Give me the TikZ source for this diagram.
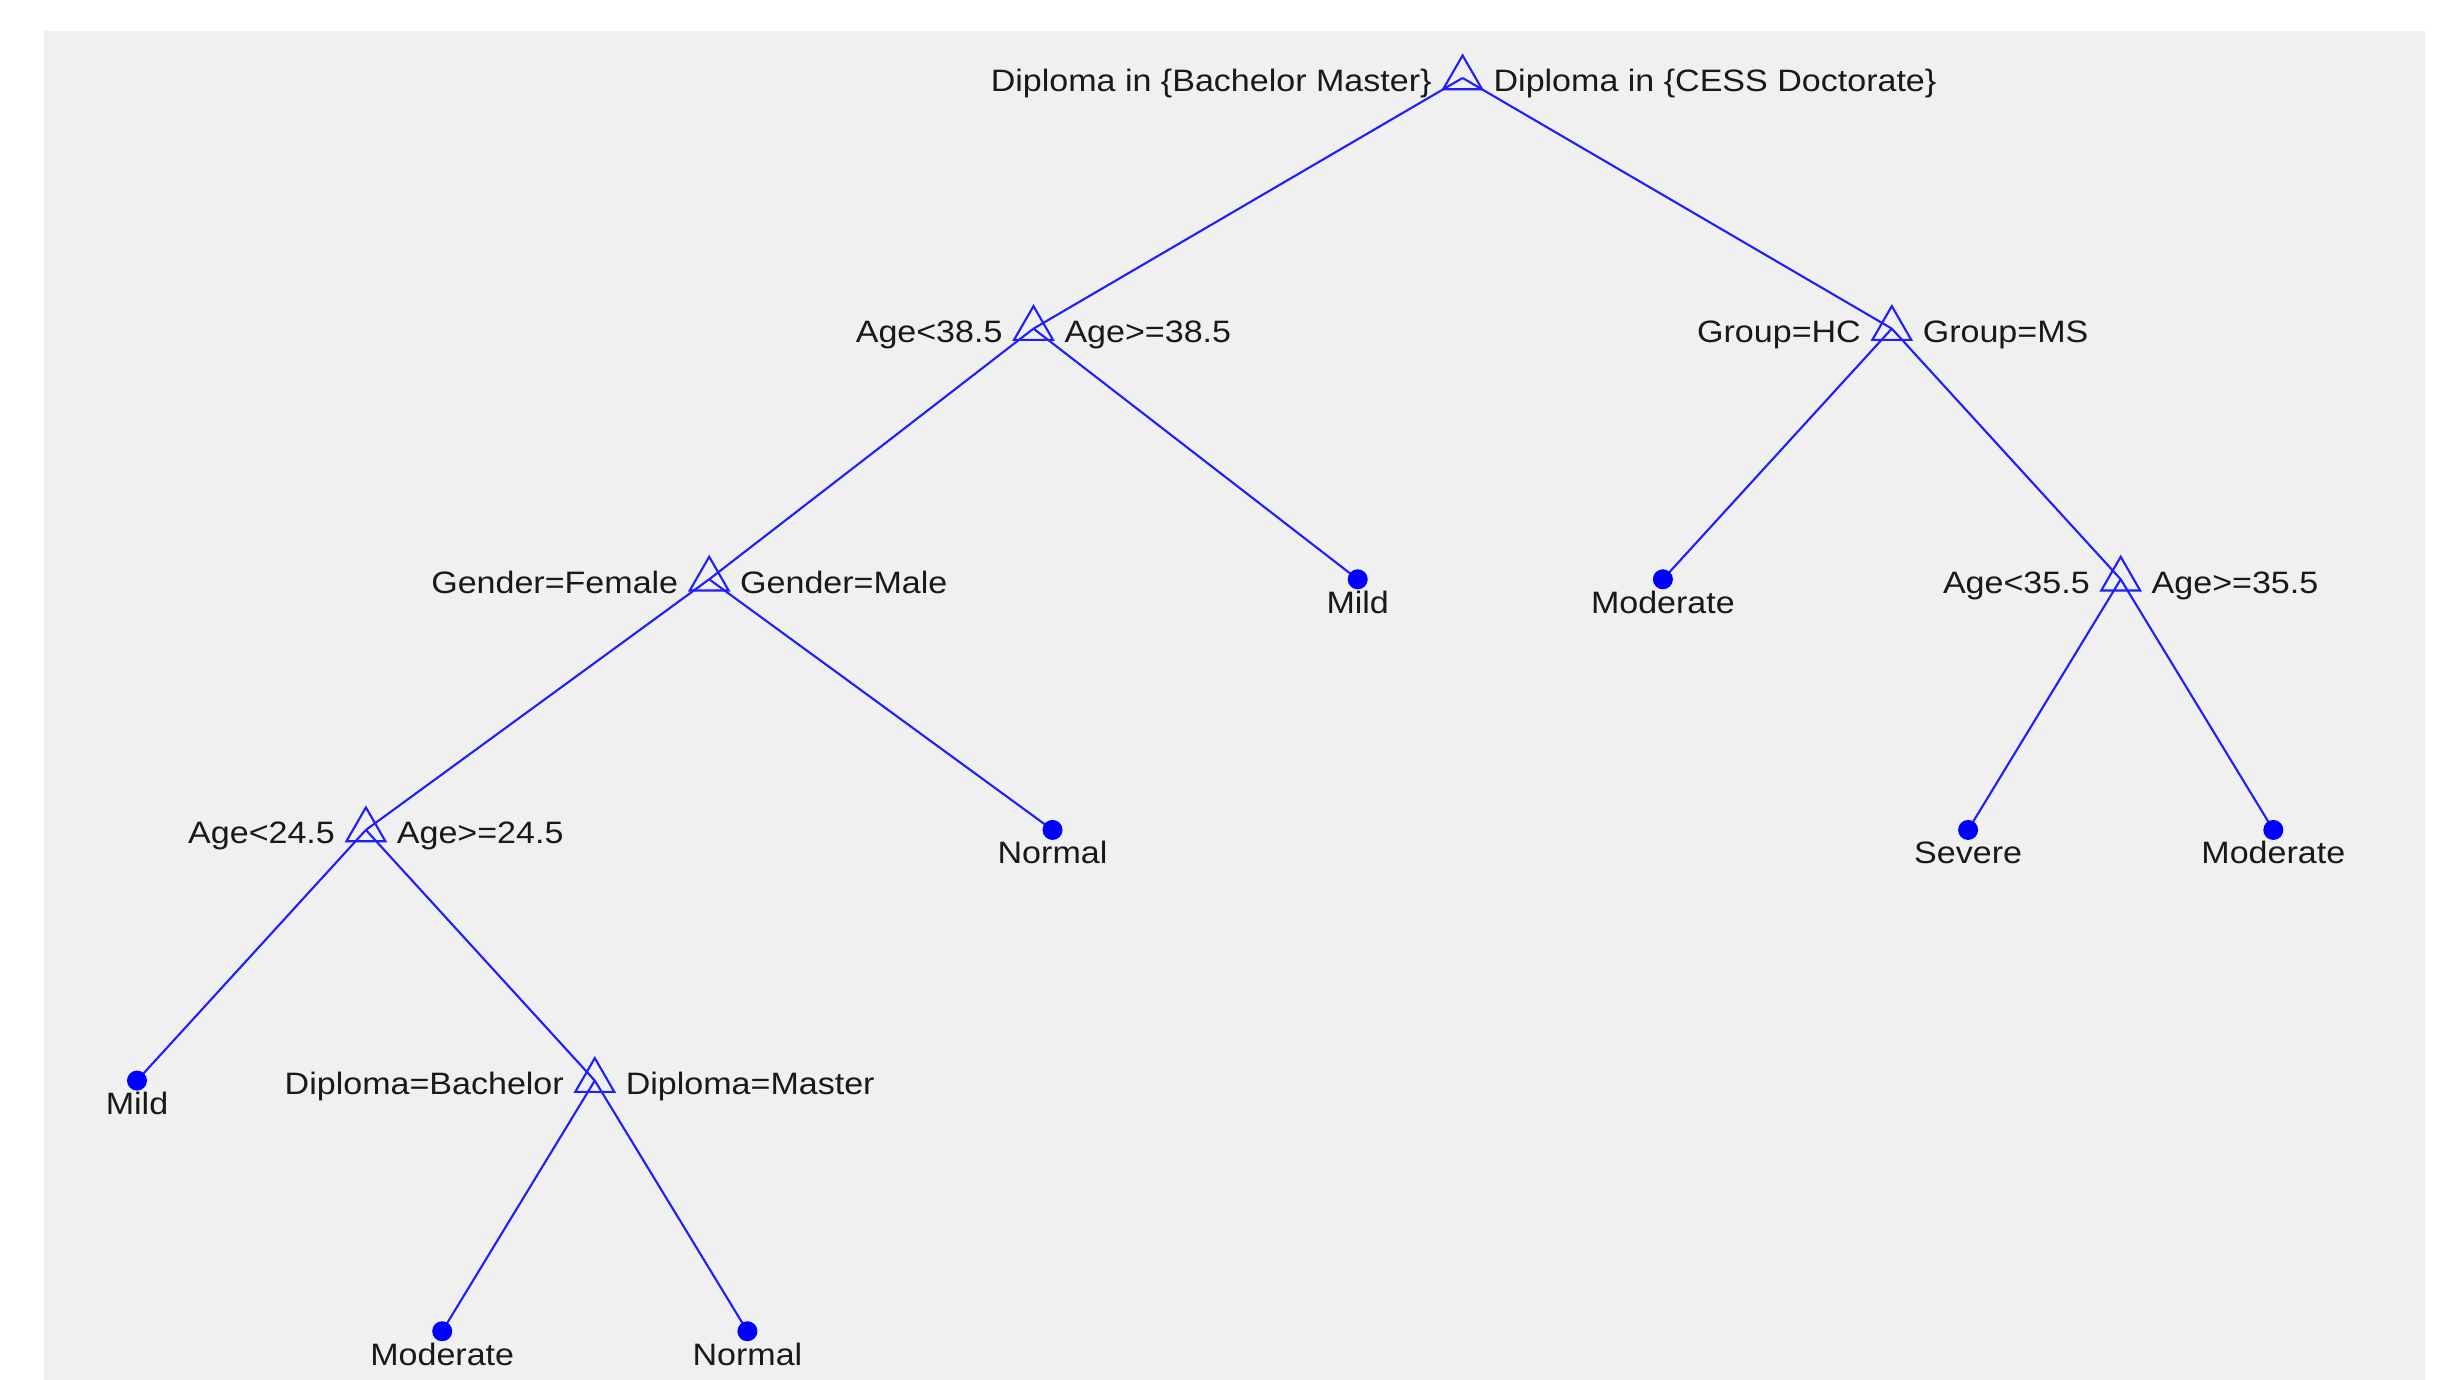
\documentclass[tikz,border=0pt]{standalone}
\usepackage{fontspec}
\newfontfamily\labfont[FakeStretch=1.1]{Liberation Sans}
\usetikzlibrary{calc,shapes.geometric}
\definecolor{bgray}{RGB}{240,240,240}
\definecolor{tblue}{RGB}{30,30,255}
\begin{document}
\begin{tikzpicture}[x=0.01cm,y=-0.01cm,
  tri/.style={draw=tblue,regular polygon,regular polygon sides=3,minimum size=0.45cm,inner sep=0pt,outer sep=0pt,line width=0.6pt},
  leaf/.style={circle,fill=blue,minimum size=0.2cm,inner sep=0pt,outer sep=0pt},
  edge/.style={draw=tblue,line width=0.6pt},
  lab/.style={inner sep=0pt,outer sep=0pt,text=black!90,font=\labfont\fontsize{8.8}{10}\selectfont}]
\useasboundingbox (0,0) rectangle (2445,1380);
\fill[white] (0,0) rectangle (2445,1380);
\fill[bgray] (44,31) rectangle (2425,1380);
% node positions
\coordinate (root) at (1462.6,78);
\coordinate (a38) at (1033.5,328.65);
\coordinate (grp) at (1891.8,328.65);
\coordinate (gen) at (709.2,579.3);
\coordinate (a35) at (2120.7,579.3);
\coordinate (a24) at (365.9,829.95);
\coordinate (dip) at (594.8,1080.6);
\coordinate (lf0) at (137.0,1080.6);
\coordinate (lf1) at (442.2,1331.25);
\coordinate (lf2) at (747.4,1331.25);
\coordinate (lf3) at (1052.5,829.95);
\coordinate (lf4) at (1357.7,579.3);
\coordinate (lf5) at (1662.9,579.3);
\coordinate (lf6) at (1968.1,829.95);
\coordinate (lf7) at (2273.3,829.95);
% edges
\draw[edge] (root) -- (a38);
\draw[edge] (root) -- (grp);
\draw[edge] (a38) -- (gen);
\draw[edge] (a38) -- (lf4);
\draw[edge] (grp) -- (lf5);
\draw[edge] (grp) -- (a35);
\draw[edge] (gen) -- (a24);
\draw[edge] (gen) -- (lf3);
\draw[edge] (a35) -- (lf6);
\draw[edge] (a35) -- (lf7);
\draw[edge] (a24) -- (lf0);
\draw[edge] (a24) -- (dip);
\draw[edge] (dip) -- (lf1);
\draw[edge] (dip) -- (lf2);
% markers
\foreach \n in {root,a38,grp,gen,a35,a24,dip}
  \node[tri] (\n m) at (\n) {};
\foreach \n in {lf0,lf1,lf2,lf3,lf4,lf5,lf6,lf7}
  \node[leaf] (\n m) at (\n) {};
% branch labels
\node[lab,anchor=base east] (rootL) at ($(root)+(-31,14)$) {Diploma in \{Bachelor Master\}};
\node[lab,anchor=base west] (rootR) at ($(root)+(31,14)$) {Diploma in \{CESS Doctorate\}};
\node[lab,anchor=base east] (a38L) at ($(a38)+(-31,14)$) {Age<38.5};
\node[lab,anchor=base west] (a38R) at ($(a38)+(31,14)$) {Age>=38.5};
\node[lab,anchor=base east] (grpL) at ($(grp)+(-31,14)$) {Group=HC};
\node[lab,anchor=base west] (grpR) at ($(grp)+(31,14)$) {Group=MS};
\node[lab,anchor=base east] (genL) at ($(gen)+(-31,14)$) {Gender=Female};
\node[lab,anchor=base west] (genR) at ($(gen)+(31,14)$) {Gender=Male};
\node[lab,anchor=base east] (a35L) at ($(a35)+(-31,14)$) {Age<35.5};
\node[lab,anchor=base west] (a35R) at ($(a35)+(31,14)$) {Age>=35.5};
\node[lab,anchor=base east] (a24L) at ($(a24)+(-31,14)$) {Age<24.5};
\node[lab,anchor=base west] (a24R) at ($(a24)+(31,14)$) {Age>=24.5};
\node[lab,anchor=base east] (dipL) at ($(dip)+(-31,14)$) {Diploma=Bachelor};
\node[lab,anchor=base west] (dipR) at ($(dip)+(31,14)$) {Diploma=Master};
% leaf labels
\node[lab,anchor=base] (lf0t) at ($(lf0)+(0,34)$) {Mild};
\node[lab,anchor=base] (lf1t) at ($(lf1)+(0,34)$) {Moderate};
\node[lab,anchor=base] (lf2t) at ($(lf2)+(0,34)$) {Normal};
\node[lab,anchor=base] (lf3t) at ($(lf3)+(0,34)$) {Normal};
\node[lab,anchor=base] (lf4t) at ($(lf4)+(0,34)$) {Mild};
\node[lab,anchor=base] (lf5t) at ($(lf5)+(0,34)$) {Moderate};
\node[lab,anchor=base] (lf6t) at ($(lf6)+(0,34)$) {Severe};
\node[lab,anchor=base] (lf7t) at ($(lf7)+(0,34)$) {Moderate};
\end{tikzpicture}
\end{document}
